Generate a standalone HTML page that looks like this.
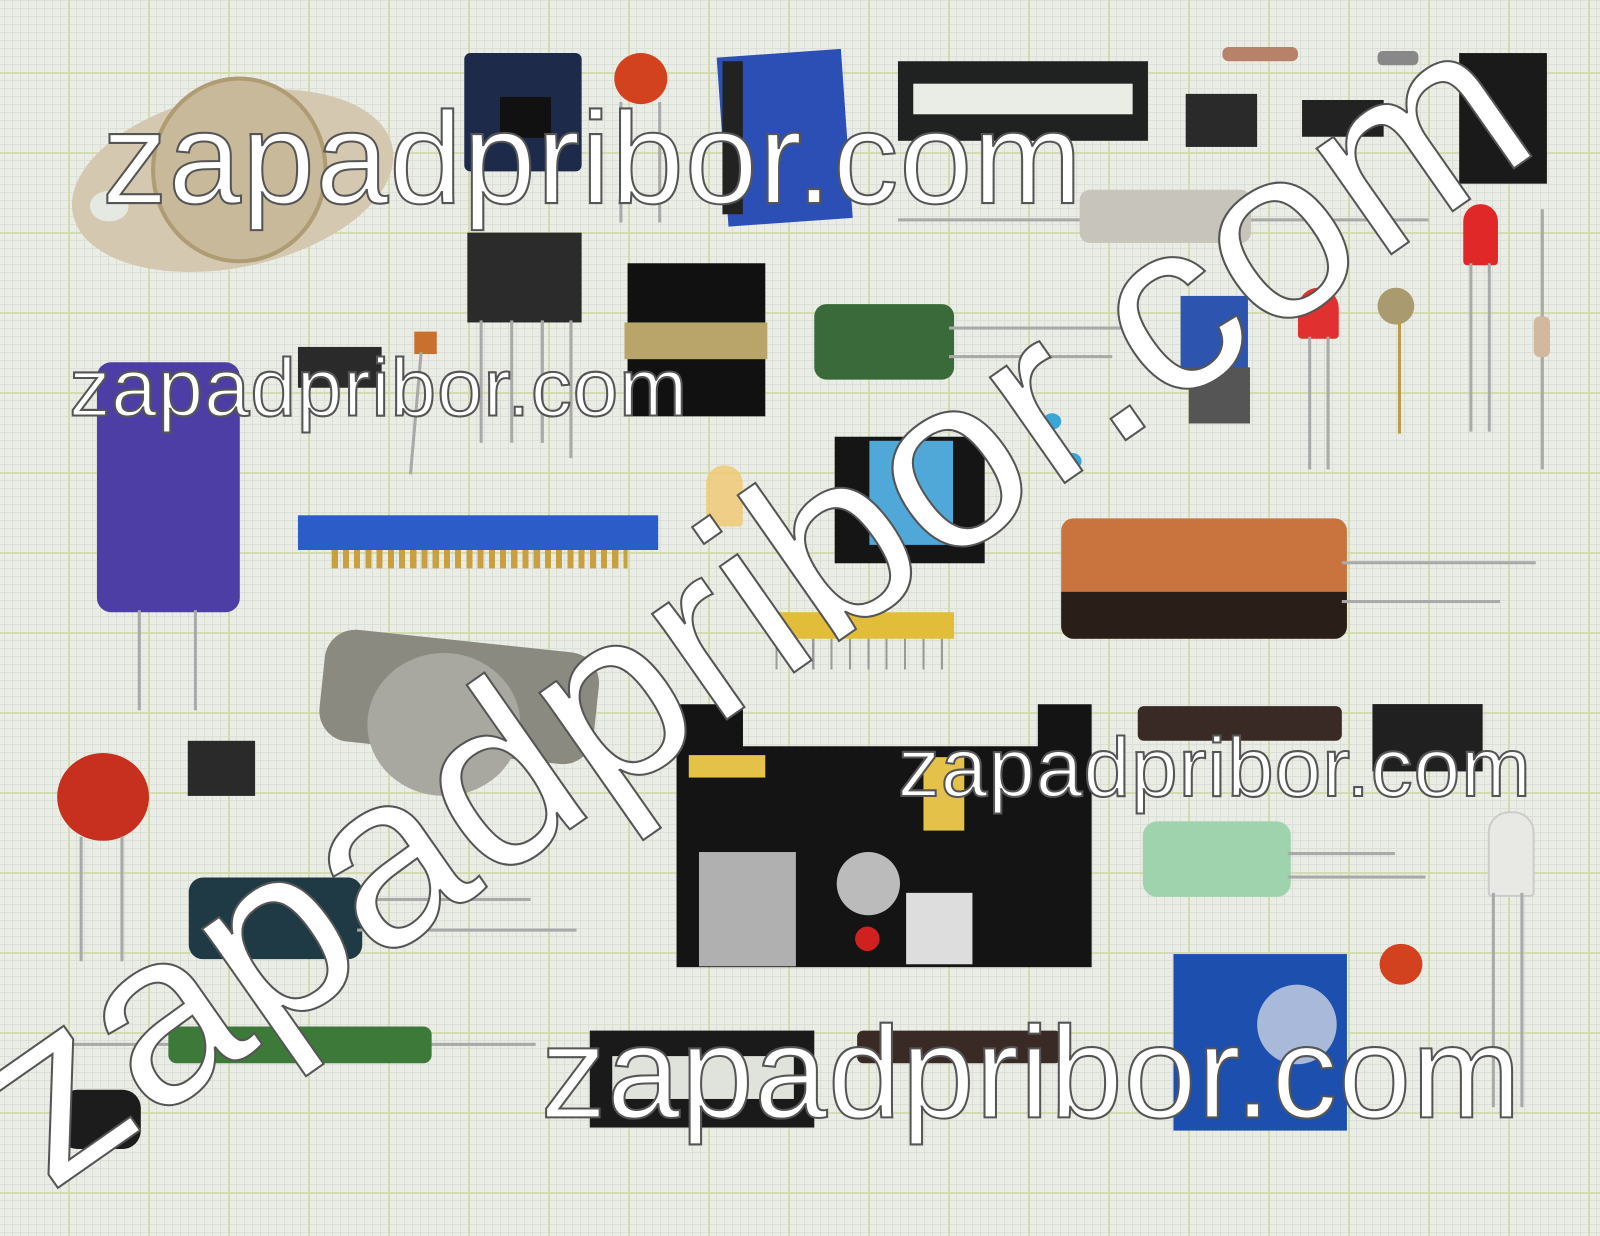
<!DOCTYPE html>
<html><head><meta charset="utf-8"><style>
html,body{margin:0;padding:0}
body{width:1600px;height:1200px;overflow:hidden;position:relative;
background-color:#eaece6;
background-image:
linear-gradient(#d3dcb0 2px,transparent 2px),
linear-gradient(90deg,#d3dcb0 2px,transparent 2px),
linear-gradient(#dcdfd8 1px,transparent 1px),
linear-gradient(90deg,#dcdfd8 1px,transparent 1px);
background-size:80px 80px,80px 80px,8px 8px,8px 8px;
background-position:-12px -8px,-12px -8px,-4px 0,-4px 0;
font-family:"Liberation Sans",sans-serif}
#w{position:absolute;left:0;top:0;width:1568px;height:1176px;transform:scale(1.0204);transform-origin:0 0}
.a{position:absolute}
.wm{position:absolute;color:#fff;font-weight:normal;white-space:nowrap;line-height:1;
-webkit-text-stroke:2px #555;letter-spacing:1px}
.lead{position:absolute;background:#a9a9a9;width:3px}
.hl{position:absolute;background:#a9a9a9;height:3px}
</style></head><body><div id="w">
<div class="a" style="left:68px;top:92px;width:320px;height:170px;border-radius:50%;background:#d4c8b0;transform:rotate(-12deg)"></div>
<div class="a" style="left:148px;top:75px;width:165px;height:175px;border-radius:50%;background:#c8b99a;border:4px solid #b09c74"></div>
<div class="a" style="left:88px;top:187px;width:38px;height:30px;border-radius:50%;background:#e6e8e2"></div>
<div class="a" style="left:455px;top:52px;width:115px;height:116px;background:#1d2a4a;border-radius:6px"></div>
<div class="a" style="left:490px;top:95px;width:50px;height:40px;background:#111"></div>
<div class="a" style="left:602px;top:52px;width:52px;height:50px;border-radius:50%;background:#d2421e"></div>
<div class="lead" style="left:607px;top:100px;height:118px"></div><div class="lead" style="left:645px;top:100px;height:118px"></div>
<div class="a" style="left:708px;top:52px;width:122px;height:166px;background:#2b4fb5;transform:rotate(-4deg)"></div>
<div class="a" style="left:708px;top:60px;width:20px;height:150px;background:#222"></div>
<div class="a" style="left:880px;top:60px;width:245px;height:78px;background:#1f2220"></div>
<div class="a" style="left:895px;top:82px;width:215px;height:30px;background:#eaece6"></div>
<div class="a" style="left:1198px;top:46px;width:74px;height:14px;background:#b7816a;border-radius:6px"></div>
<div class="a" style="left:1350px;top:50px;width:40px;height:14px;background:#888;border-radius:5px"></div>
<div class="a" style="left:1162px;top:92px;width:70px;height:52px;background:#2a2a2a"></div>
<div class="a" style="left:1276px;top:98px;width:80px;height:36px;background:#222"></div>
<div class="a" style="left:1430px;top:52px;width:86px;height:128px;background:#1a1a1a"></div>
<div class="hl" style="left:880px;top:214px;width:520px"></div>
<div class="a" style="left:1058px;top:186px;width:168px;height:52px;background:#c7c5bb;border-radius:10px"></div>
<div class="a" style="left:458px;top:228px;width:112px;height:88px;background:#2b2b2b"></div>
<div class="lead" style="left:470px;top:314px;height:120px"></div><div class="lead" style="left:500px;top:314px;height:120px"></div><div class="lead" style="left:530px;top:314px;height:120px"></div><div class="lead" style="left:558px;top:314px;height:135px"></div>
<div class="a" style="left:615px;top:258px;width:135px;height:150px;background:#111"></div>
<div class="a" style="left:612px;top:316px;width:140px;height:36px;background:#b9a56a"></div>
<div class="a" style="left:292px;top:340px;width:82px;height:40px;background:#2a2a2a"></div>
<div class="a" style="left:406px;top:325px;width:22px;height:22px;background:#c9702e"></div>
<div class="lead" style="left:406px;top:345px;height:120px;transform:rotate(5deg)"></div>
<div class="a" style="left:798px;top:298px;width:137px;height:74px;background:#3a6a3a;border-radius:12px"></div>
<div class="hl" style="left:930px;top:320px;width:190px"></div><div class="hl" style="left:930px;top:348px;width:160px"></div>
<div class="a" style="left:1157px;top:290px;width:66px;height:72px;background:#2d55b0"></div>
<div class="a" style="left:1165px;top:360px;width:60px;height:55px;background:#555"></div>
<div class="a" style="left:1272px;top:282px;width:40px;height:50px;background:#e03030;border-radius:20px 20px 4px 4px"></div>
<div class="lead" style="left:1282px;top:330px;height:130px"></div><div class="lead" style="left:1300px;top:330px;height:130px"></div>
<div class="a" style="left:1350px;top:282px;width:36px;height:36px;background:#a99a70;border-radius:50%"></div>
<div class="lead" style="left:1370px;top:315px;height:110px;background:#b99b4a"></div>
<div class="a" style="left:1434px;top:200px;width:34px;height:60px;background:#e02828;border-radius:17px 17px 4px 4px"></div>
<div class="lead" style="left:1440px;top:258px;height:165px"></div><div class="lead" style="left:1458px;top:258px;height:165px"></div>
<div class="lead" style="left:1510px;top:205px;height:255px"></div>
<div class="a" style="left:1503px;top:310px;width:16px;height:40px;background:#d3b8a0;border-radius:6px"></div>
<div class="a" style="left:95px;top:355px;width:140px;height:245px;background:#4d3ea6;border-radius:14px"></div>
<div class="lead" style="left:135px;top:598px;height:98px"></div><div class="lead" style="left:190px;top:598px;height:98px"></div>
<div class="a" style="left:1022px;top:405px;width:18px;height:16px;border-radius:50%;background:#3aa6d6"></div>
<div class="a" style="left:1042px;top:444px;width:18px;height:16px;border-radius:50%;background:#3aa6d6"></div>
<div class="a" style="left:818px;top:428px;width:147px;height:124px;background:#151515"></div>
<div class="a" style="left:852px;top:432px;width:82px;height:102px;background:#4fa8d8"></div>
<div class="a" style="left:692px;top:456px;width:36px;height:60px;background:#f0c870;border-radius:18px 18px 4px 4px;opacity:.8"></div>
<div class="a" style="left:292px;top:505px;width:353px;height:34px;background:#2c5cc8"></div>
<div class="a" style="left:325px;top:539px;width:290px;height:18px;background:repeating-linear-gradient(90deg,#c9a040 0 6px,transparent 6px 11px)"></div>
<div class="a" style="left:1040px;top:508px;width:280px;height:118px;background:#c9733e;border-radius:12px"></div>
<div class="a" style="left:1040px;top:580px;width:280px;height:46px;background:#2a1f18;border-radius:0 0 12px 12px"></div>
<div class="hl" style="left:1315px;top:550px;width:190px"></div><div class="hl" style="left:1315px;top:588px;width:155px"></div>
<div class="a" style="left:755px;top:600px;width:180px;height:26px;background:#e2bd3a"></div>
<div class="a" style="left:760px;top:626px;width:172px;height:30px;background:repeating-linear-gradient(90deg,#999 0 2px,transparent 2px 18px)"></div>
<div class="a" style="left:315px;top:628px;width:270px;height:110px;background:#8a8a80;border-radius:30px;transform:rotate(6deg)"></div>
<div class="a" style="left:360px;top:640px;width:150px;height:140px;background:#a8a8a0;border-radius:50%"></div>
<div class="a" style="left:56px;top:738px;width:90px;height:86px;border-radius:50%;background:#c7301e"></div>
<div class="lead" style="left:78px;top:820px;height:122px"></div><div class="lead" style="left:118px;top:820px;height:122px"></div>
<div class="a" style="left:184px;top:726px;width:66px;height:54px;background:#2a2a2a"></div>
<div class="a" style="left:663px;top:690px;width:407px;height:258px;background:#141414;clip-path:polygon(0 0,16% 0,16% 16%,87% 16%,87% 0,100% 0,100% 100%,0 100%)"></div>
<div class="a" style="left:685px;top:835px;width:95px;height:112px;background:#b0b0b0"></div>
<div class="a" style="left:888px;top:875px;width:65px;height:70px;background:#ddd"></div>
<div class="a" style="left:820px;top:835px;width:62px;height:62px;background:#bbb;border-radius:50%"></div>
<div class="a" style="left:905px;top:742px;width:40px;height:72px;background:#e4c24a"></div>
<div class="a" style="left:675px;top:740px;width:75px;height:22px;background:#e4c24a"></div>
<div class="a" style="left:838px;top:908px;width:24px;height:24px;background:#d02020;border-radius:50%"></div>
<div class="a" style="left:1115px;top:692px;width:200px;height:34px;background:#3a2a26;border-radius:6px"></div>
<div class="a" style="left:1345px;top:690px;width:108px;height:66px;background:#202020"></div>
<div class="a" style="left:1120px;top:805px;width:145px;height:74px;background:#9fd3ad;border-radius:14px"></div>
<div class="hl" style="left:1262px;top:835px;width:105px"></div><div class="hl" style="left:1262px;top:858px;width:135px"></div>
<div class="a" style="left:1458px;top:795px;width:42px;height:80px;background:#e8e8e4;border:2px solid #ccc;border-radius:21px 21px 4px 4px"></div>
<div class="lead" style="left:1462px;top:875px;height:210px"></div><div class="lead" style="left:1490px;top:875px;height:210px"></div>
<div class="a" style="left:185px;top:860px;width:170px;height:80px;background:#1f3a44;border-radius:14px"></div>
<div class="hl" style="left:350px;top:880px;width:170px"></div><div class="hl" style="left:350px;top:910px;width:215px"></div>
<div class="a" style="left:1150px;top:935px;width:170px;height:173px;background:#1d4fae"></div>
<div class="a" style="left:1232px;top:965px;width:78px;height:78px;border-radius:50%;background:#a9b9d9"></div>
<div class="a" style="left:1352px;top:925px;width:42px;height:40px;border-radius:50%;background:#d2421e"></div>
<div class="hl" style="left:70px;top:1022px;width:455px"></div>
<div class="a" style="left:165px;top:1006px;width:258px;height:36px;background:#3d7a3a;border-radius:8px"></div>
<div class="a" style="left:58px;top:1068px;width:80px;height:58px;background:#1c1c1c;border-radius:18px"></div>
<div class="a" style="left:578px;top:1010px;width:220px;height:95px;background:#1a1a1a"></div>
<div class="a" style="left:600px;top:1035px;width:178px;height:42px;background:#e0e2dc"></div>
<div class="a" style="left:840px;top:1010px;width:200px;height:32px;background:#3a2a26;border-radius:6px"></div>
<div class="wm" style="left:100px;top:92px;font-size:128px">zapadpribor.com</div>
<div class="wm" style="left:68px;top:340px;font-size:80px">zapadpribor.com</div>
<div class="wm" style="left:880px;top:712px;font-size:82px">zapadpribor.com</div>
<div class="wm" style="left:530px;top:988px;font-size:128px">zapadpribor.com</div>
<div class="wm" style="left:70px;top:960px;font-size:240px;transform:rotate(-35deg);transform-origin:0 100%">zapadpribor.com</div>
</div></body></html>
